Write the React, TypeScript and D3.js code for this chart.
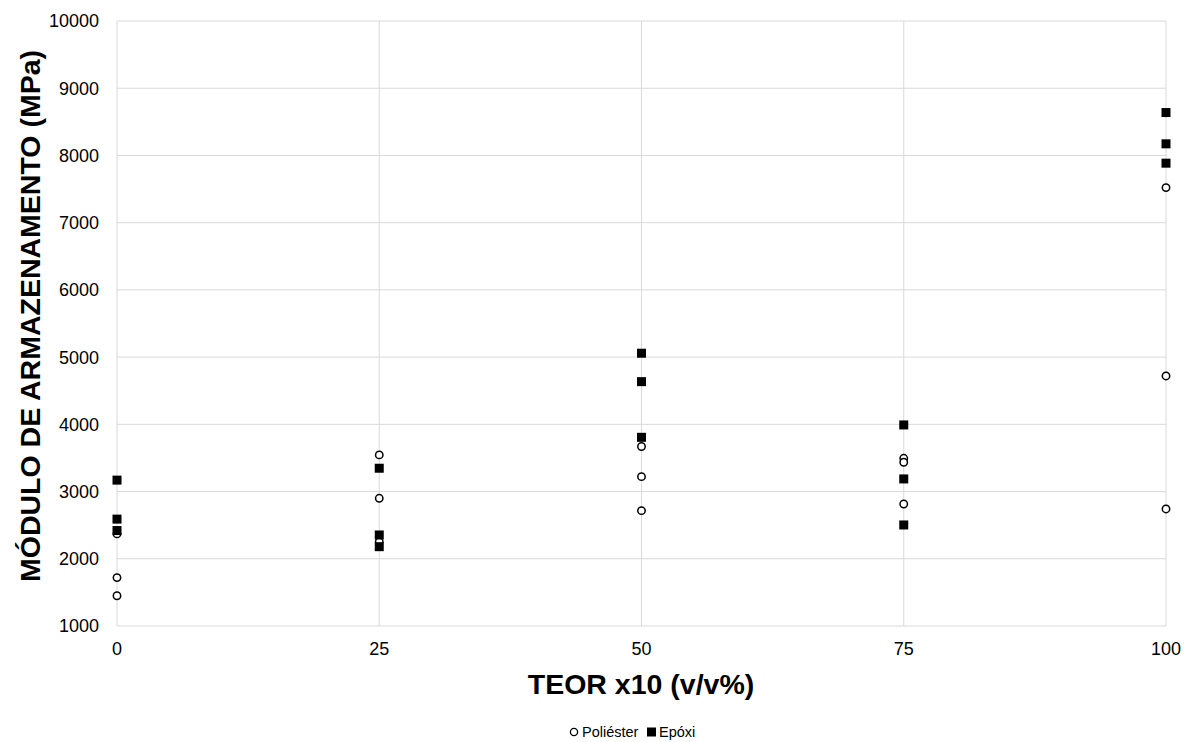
import React from "react";
import * as d3 from "d3";

const xTicks = [0, 25, 50, 75, 100];
const yTicks = [1000, 2000, 3000, 4000, 5000, 6000, 7000, 8000, 9000, 10000];

const poliesterX = [0, 0, 0, 25, 25, 25, 50, 50, 50, 75, 75, 75, 100, 100, 100];
const poliesterY = [2370, 1720, 1450, 3545, 2900, 2255, 3670, 3222, 2716, 3495, 3436, 2815, 7522, 4720, 2741];

const epoxiX = [0, 0, 0, 25, 25, 25, 50, 50, 50, 75, 75, 75, 100, 100, 100];
const epoxiY = [3170, 2590, 2420, 3347, 2354, 2180, 5058, 4635, 3807, 3991, 3188, 2503, 8638, 8173, 7885];

const W = 1184;
const H = 742;
const font = "'Liberation Sans', Arial, sans-serif";

export default function App() {
  const x = d3.scaleLinear().domain([0, 100]).range([117, 1166]);
  const y = d3.scaleLinear().domain([1000, 10000]).range([626, 21]);

  return (
    <svg width={W} height={H} style={{ position: "absolute", left: 0, top: 0, background: "#fff" }} fontFamily={font}>
      <rect x={0} y={0} width={W} height={H} fill="#fff" />
      {yTicks.map((t) => (
        <line key={"gy" + t} x1={x(0)} x2={x(100)} y1={y(t)} y2={y(t)} stroke="#d9d9d9" strokeWidth={1} />
      ))}
      {xTicks.map((t) => (
        <line key={"gx" + t} x1={x(t)} x2={x(t)} y1={y(10000)} y2={y(1000)} stroke="#d9d9d9" strokeWidth={1} />
      ))}
      {yTicks.map((t) => (
        <text key={"ty" + t} x={99} y={y(t)} dy="0.36em" textAnchor="end" fontSize={18} fill="#000">
          {t}
        </text>
      ))}
      {xTicks.map((t) => (
        <text key={"tx" + t} x={x(t)} y={655} textAnchor="middle" fontSize={18} fill="#000">
          {t}
        </text>
      ))}
      {poliesterX.map((v, i) => (
        <circle key={"p" + i} cx={x(v)} cy={y(poliesterY[i])} r={3.7} fill="#fff" stroke="#000" strokeWidth={1.5} />
      ))}
      {epoxiX.map((v, i) => (
        <rect key={"e" + i} x={x(v) - 4.5} y={y(epoxiY[i]) - 4.5} width={9} height={9} fill="#000" />
      ))}
      <text x={641} y={694} textAnchor="middle" fontSize={28.5} fontWeight="bold" fill="#000">
        TEOR x10 (v/v%)
      </text>
      <text
        transform={`translate(40, 316) rotate(-90)`}
        textAnchor="middle"
        fontSize={28.5}
        fontWeight="bold"
        fill="#000"
      >
        MÓDULO DE ARMAZENAMENTO (MPa)
      </text>
      <g fontSize={14.5}>
        <circle cx={574} cy={732} r={3.6} fill="#fff" stroke="#000" strokeWidth={1.3} />
        <text x={582} y={737} fill="#000">Poliéster</text>
        <rect x={647} y={727.5} width={9} height={9} fill="#000" />
        <text x={659} y={737} fill="#000">Epóxi</text>
      </g>
    </svg>
  );
}
